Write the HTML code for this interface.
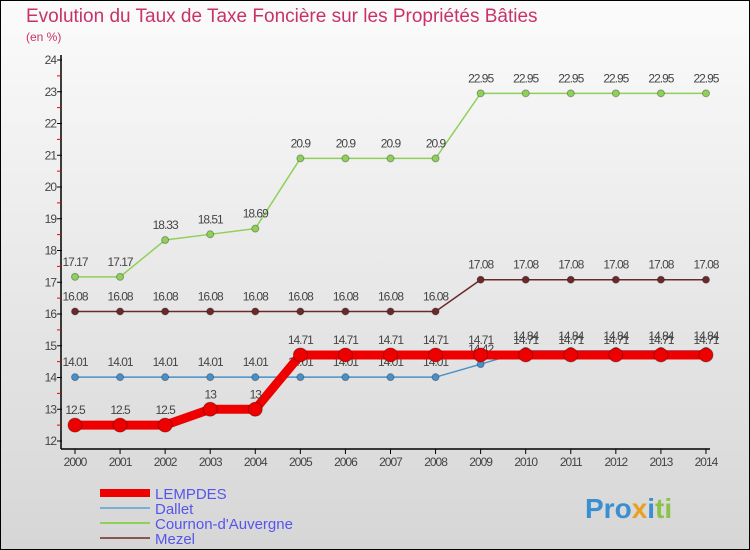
<!DOCTYPE html>
<html><head><meta charset="utf-8"><style>
body{margin:0}
#c{width:750px;height:550px;position:relative;box-sizing:border-box;border:1px solid #000;background:linear-gradient(#fbfbfb,#d6d6d6);font-family:"Liberation Sans",sans-serif;overflow:hidden}
</style></head><body>
<div id="c">
<svg width="750" height="550" style="position:absolute;left:-1px;top:-1px" id="svg">
<text x="26" y="22" font-size="19" fill="#c8326a">Evolution du Taux de Taxe Foncière sur les Propriétés Bâties</text>
<text x="26" y="41" font-size="12" fill="#c8326a">(en %)</text>
<g id="g"></g>
<text x="290" y="68" font-size="1" fill="none"> </text>
<text x="585" y="518" font-size="28" font-weight="bold" fill="#3a8fd0">Pro<tspan fill="#e8a020">x</tspan><tspan fill="#3a8fd0">i</tspan><tspan fill="#8bc34a">ti</tspan></text>
</svg>
</div>
<script>
const years=[2000,2001,2002,2003,2004,2005,2006,2007,2008,2009,2010,2011,2012,2013,2014];
const yTicks=[12,13,14,15,16,17,18,19,20,21,22,23,24];
const lempdes=[12.5,12.5,12.5,13,13,14.71,14.71,14.71,14.71,14.71,14.71,14.71,14.71,14.71,14.71];
const dallet=[14.01,14.01,14.01,14.01,14.01,14.01,14.01,14.01,14.01,14.42,14.84,14.84,14.84,14.84,14.84];
const cournon=[17.17,17.17,18.33,18.51,18.69,20.9,20.9,20.9,20.9,22.95,22.95,22.95,22.95,22.95,22.95];
const mezel=[16.08,16.08,16.08,16.08,16.08,16.08,16.08,16.08,16.08,17.08,17.08,17.08,17.08,17.08,17.08];
const NS="http://www.w3.org/2000/svg";
const g=document.getElementById('g');
const X=i=>75+i*45.07;
const Y=v=>441-(v-12)*31.75;
function el(t,a,txt){const e=document.createElementNS(NS,t);for(const k in a)e.setAttribute(k,a[k]);if(txt!=null)e.textContent=txt;g.appendChild(e);return e;}
let e;
e=el('line',{x1:61,y1:55,x2:61,y2:449,stroke:'#000','stroke-width':1.5});


e=el('line',{x1:61,y1:449,x2:710,y2:449,stroke:'#000','stroke-width':1.5});


yTicks.forEach(v=>{
  el('line',{x1:57,y1:Y(v),x2:62,y2:Y(v),stroke:'#000'});
  if(v<24){el('line',{x1:57,y1:Y(v+0.5),x2:61,y2:Y(v+0.5),stroke:'#e00'});}
  e=el('text',{x:56,y:Y(v)+4,'font-size':12,fill:'#444','text-anchor':'end','letter-spacing':'-1'},v);
  
  
});
years.forEach((y,i)=>{
  el('line',{x1:X(i),y1:449,x2:X(i),y2:454,stroke:'#000'});
  e=el('text',{x:X(i),y:466,'font-size':12,fill:'#444','text-anchor':'middle','letter-spacing':'-1'},y);
  
  
});
function series(arr,color,w,r,name){
  e=el('polyline',{points:arr.map((v,i)=>X(i)+','+Y(v)).join(' '),fill:'none',stroke:color,'stroke-width':w});
  
  
  arr.forEach((v,i)=>{
    e=el('circle',{cx:X(i),cy:Y(v),r:r,fill:color,stroke:'rgba(0,0,0,0.3)'});
    
    
    e=el('text',{x:X(i),y:Y(v)-11,'font-size':12,fill:'#444','text-anchor':'middle','letter-spacing':'-1'},String(v));
    
    
  });
}
series(cournon,'#8fd05a',1.5,3.5,'cournon');
series(mezel,'#6b2a2a',1.5,3.5,'mezel');
series(dallet,'#4a90c8',1.5,3.5,'dallet');
series(lempdes,'#ee0000',9,7,'lempdes');
const leg=[['LEMPDES','#ee0000',8],['Dallet','#7aaed6',2],['Cournon-d\'Auvergne','#8fd05a',2],['Mezel','#8a5555',2]];
leg.forEach((l,i)=>{
  const y=493+i*15;
  e=el('line',{x1:100,y1:y,x2:150,y2:y,stroke:l[1],'stroke-width':l[2]});
  
  
  e=el('text',{x:155,y:y+6,'font-size':15,fill:'#5555ee'},l[0]);
  
  
});
</script>
</body></html>
